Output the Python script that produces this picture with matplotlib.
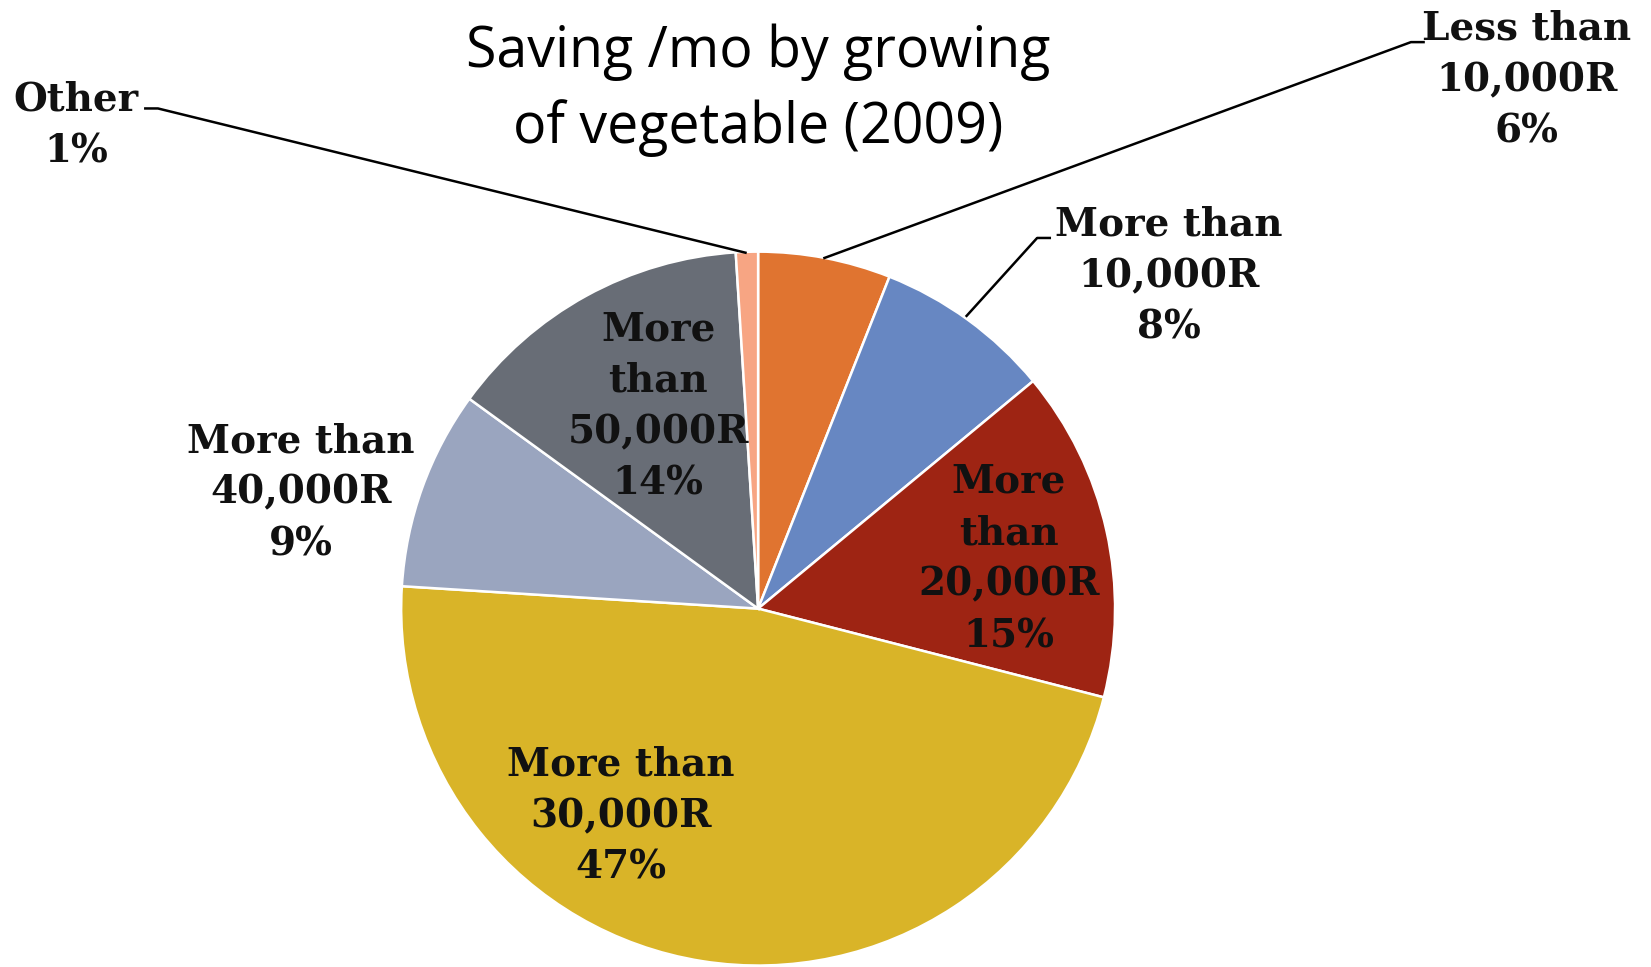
import matplotlib.pyplot as plt

# Data
labels = ["Less than\n10,000R", "More than\n10,000R", "More\nthan\n20,000R",
          "More than\n30,000R", "More than\n40,000R", "More\nthan\n50,000R", "Other"]
shares = [6, 8, 15, 47, 9, 14, 1]
colors = ["#E07430", "#6787C2", "#9E2413", "#D9B428", "#9AA5BF", "#686D76", "#F7A583"]

W, H = 1651, 967
S = 1651 / 1568  # layout was measured on a 1568 px wide copy

# label centres (measured pixels, y from top)
label_pos = [(1450, 76), (1110, 262), (958, 531), (590, 775), (286, 468), (625, 386), (72, 119)]


def px(x, y):
    return x * S, H - y * S


def main():
    fig = plt.figure(figsize=(W / 100, H / 100), dpi=100)
    ax = fig.add_axes([0, 0, 1, 1])

    cx, cy = px(720, 578)
    r = 339 * S
    ax.pie(shares, colors=colors, startangle=90, counterclock=False,
           center=(cx, cy), radius=r, frame=True,
           wedgeprops=dict(edgecolor="white", linewidth=1.8))
    ax.set_xlim(0, W)
    ax.set_ylim(0, H)
    ax.set_aspect("equal")
    ax.axis("off")

    for lab, val, (x, y) in zip(labels, shares, label_pos):
        tx, ty = px(x, y)
        ax.text(tx, ty, f"{lab}\n{val}%", ha="center", va="center",
                fontsize=28, fontweight="bold", family="DejaVu Serif",
                color="#111111", linespacing=1.45)

    # leader lines
    leaders = [
        [(783, 245), (1340, 40), (1352, 40)],
        [(918, 300), (985, 226), (997, 226)],
        [(708, 240), (150, 103), (138, 103)],
    ]
    for pts in leaders:
        xy = [px(a, b) for a, b in pts]
        ax.plot([p[0] for p in xy], [p[1] for p in xy], color="black", linewidth=1.8)

    tx, ty = px(720, 86)
    ax.text(tx, ty, "Saving /mo by growing\nof vegetable (2009)", ha="center",
            va="center", fontsize=40, family="Open Sans", color="black",
            linespacing=1.42)

    fig.savefig("out.png", dpi=100)


if __name__ == "__main__":
    main()
